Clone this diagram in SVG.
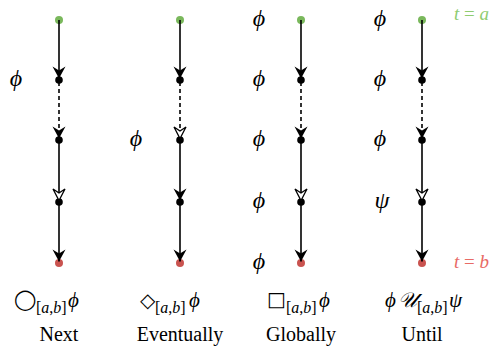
<svg xmlns="http://www.w3.org/2000/svg" width="501" height="350" viewBox="0 0 501 350">
<style>
.bg{fill:#fff}
.ln{stroke:#000;stroke-width:1.6;fill:none}
.d{stroke-dasharray:4 3}
.f{marker-end:url(#ah)}
.o{marker-end:url(#aho)}
.dot{fill:#000}
.st{fill:#7ab85c}
.en{fill:#c9534f}
.lbl{font-style:italic;font-size:24px;text-anchor:middle}
.fm{font-style:italic;font-size:21px}
.sub{font-size:16px}
.sym{font-size:20px}
.nm{font-size:20px;text-anchor:middle}
.ta{font-size:19px;fill:#8fcc70}
.tb{font-size:19px;fill:#e86a65}
</style>
<defs>
<marker id="ah" viewBox="-14 -8 16 16" markerWidth="16" markerHeight="16" refX="0" refY="0" orient="auto" markerUnits="userSpaceOnUse">
<path d="M0,0 L-12,-6.5 L-8,0 L-12,6.5 Z" fill="#000"/>
</marker>
<marker id="aho" viewBox="-14 -8 16 16" markerWidth="16" markerHeight="16" refX="0" refY="0" orient="auto" markerUnits="userSpaceOnUse">
<path d="M0,0 L-11.5,-6 L-7.5,0 L-11.5,6 Z" fill="#fff" stroke="#000" stroke-width="1.3"/>
</marker>
</defs>
<rect class="bg" x="0" y="0" width="501" height="350"/>

<g id="next" font-family="'Liberation Serif', 'Times New Roman', serif">
<circle class="st" cx="59" cy="20" r="4"/>
<circle class="dot" cx="59" cy="80" r="3.8"/>
<circle class="dot" cx="59" cy="140" r="3.8"/>
<circle class="dot" cx="59" cy="202" r="3.8"/>
<circle class="en" cx="59" cy="263" r="4"/>
<text class="lbl" x="16" y="86">ϕ</text>
<text class="sym" x="14" y="306" font-size="16" font-family="'DejaVu Sans', sans-serif">◯</text>
<text class="sub" x="36" y="313">[<tspan font-style="italic">a</tspan>,<tspan font-style="italic">b</tspan>]</text>
<text class="fm" x="68" y="307">ϕ</text>
<text class="nm" x="59" y="341">Next</text>
</g>

<g id="eventually" font-family="'Liberation Serif', 'Times New Roman', serif">
<circle class="st" cx="180" cy="20" r="4"/>
<circle class="dot" cx="180" cy="80" r="3.8"/>
<circle class="dot" cx="180" cy="140" r="3.8"/>
<circle class="dot" cx="180" cy="202" r="3.8"/>
<circle class="en" cx="180" cy="263" r="4"/>
<text class="lbl" x="136" y="146">ϕ</text>
<text class="sym" x="140" y="307" font-family="'DejaVu Sans', sans-serif">◇</text>
<text class="sub" x="155" y="313">[<tspan font-style="italic">a</tspan>,<tspan font-style="italic">b</tspan>]</text>
<text class="fm" x="189" y="307">ϕ</text>
<text class="nm" x="180" y="341">Eventually</text>
</g>

<g id="globally" font-family="'Liberation Serif', 'Times New Roman', serif">
<circle class="st" cx="301" cy="20" r="4"/>
<circle class="dot" cx="301" cy="80" r="3.8"/>
<circle class="dot" cx="301" cy="140" r="3.8"/>
<circle class="dot" cx="301" cy="202" r="3.8"/>
<circle class="en" cx="301" cy="263" r="4"/>
<text class="lbl" x="259" y="26">ϕ</text>
<text class="lbl" x="259" y="86">ϕ</text>
<text class="lbl" x="259" y="146">ϕ</text>
<text class="lbl" x="259" y="208">ϕ</text>
<text class="lbl" x="259" y="269">ϕ</text>
<text class="sym" x="267" y="306" font-size="18" font-family="'DejaVu Sans', sans-serif">□</text>
<text class="sub" x="286" y="313">[<tspan font-style="italic">a</tspan>,<tspan font-style="italic">b</tspan>]</text>
<text class="fm" x="319" y="307">ϕ</text>
<text class="nm" x="301" y="341">Globally</text>
</g>

<g id="until" font-family="'Liberation Serif', 'Times New Roman', serif">
<circle class="st" cx="422" cy="20" r="4"/>
<circle class="dot" cx="422" cy="80" r="3.8"/>
<circle class="dot" cx="422" cy="140" r="3.8"/>
<circle class="dot" cx="422" cy="202" r="3.8"/>
<circle class="en" cx="422" cy="263" r="4"/>
<text class="lbl" x="380" y="26">ϕ</text>
<text class="lbl" x="380" y="86">ϕ</text>
<text class="lbl" x="380" y="146">ϕ</text>
<text class="lbl" x="382" y="208">ψ</text>
<text class="fm" x="385" y="307">ϕ</text>
<text class="fm" x="398" y="307" font-family="'DejaVu Serif', serif" font-style="normal">𝒰</text>
<text class="sub" x="417" y="313">[<tspan font-style="italic">a</tspan>,<tspan font-style="italic">b</tspan>]</text>
<text class="fm" x="449" y="307">ψ</text>
<text class="nm" x="422" y="341">Until</text>
</g>

<g id="time-labels" font-family="'Liberation Serif', 'Times New Roman', serif">
<text class="ta" x="454" y="20"><tspan font-style="italic">t</tspan> = <tspan font-style="italic">a</tspan></text>
<text class="tb" x="454" y="268"><tspan font-style="italic">t</tspan> = <tspan font-style="italic">b</tspan></text>
</g>

<g id="connectors">
<line class="ln f" x1="59" y1="20" x2="59" y2="78.5"/>
<line class="ln d f" x1="59" y1="82" x2="59" y2="138.5"/>
<line class="ln o" x1="59" y1="142" x2="59" y2="200.5"/>
<line class="ln f" x1="59" y1="204" x2="59" y2="261.5"/>

<line class="ln f" x1="180" y1="20" x2="180" y2="78.5"/>
<line class="ln d o" x1="180" y1="82" x2="180" y2="138.5"/>
<line class="ln f" x1="180" y1="142" x2="180" y2="200.5"/>
<line class="ln f" x1="180" y1="204" x2="180" y2="261.5"/>

<line class="ln f" x1="301" y1="20" x2="301" y2="78.5"/>
<line class="ln d f" x1="301" y1="82" x2="301" y2="138.5"/>
<line class="ln o" x1="301" y1="142" x2="301" y2="200.5"/>
<line class="ln f" x1="301" y1="204" x2="301" y2="261.5"/>

<line class="ln f" x1="422" y1="20" x2="422" y2="78.5"/>
<line class="ln d f" x1="422" y1="82" x2="422" y2="138.5"/>
<line class="ln o" x1="422" y1="142" x2="422" y2="200.5"/>
<line class="ln f" x1="422" y1="204" x2="422" y2="261.5"/>
</g>
</svg>
